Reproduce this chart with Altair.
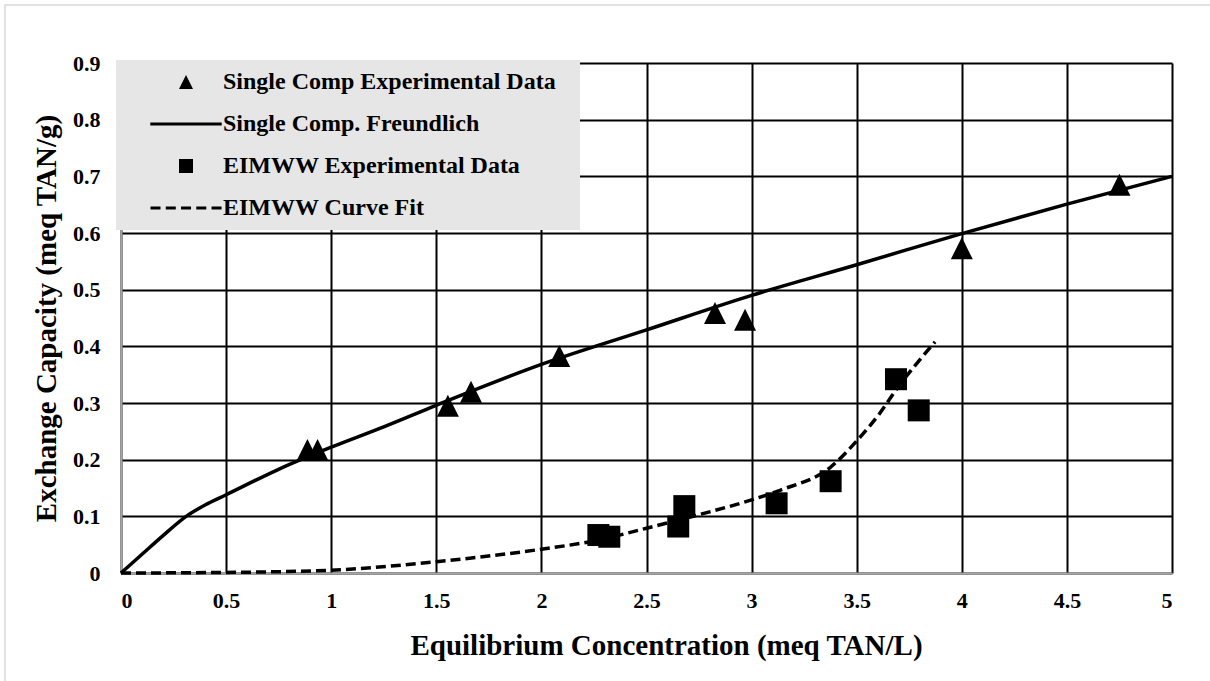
import altair as alt
import pandas as pd

# ---- data ----
single_exp_x = [0.887, 0.935, 1.555, 1.665, 2.085, 2.826, 2.969, 4.0, 4.75]
single_exp_y = [0.217, 0.217, 0.295, 0.320, 0.383, 0.459, 0.447, 0.573, 0.685]

eimww_exp_x = [2.271, 2.323, 2.651, 2.68, 3.119, 3.376, 3.687, 3.795]
eimww_exp_y = [0.067, 0.064, 0.082, 0.118, 0.123, 0.162, 0.342, 0.287]

freund_x = [0, 0.1, 0.2, 0.31, 0.4, 0.5, 0.75, 1, 1.25, 1.5, 2, 2.5, 3, 3.5, 4, 4.5, 5]
freund_y = [0, 0.033, 0.066, 0.100, 0.120, 0.138, 0.183, 0.222, 0.258, 0.296, 0.368,
            0.429, 0.49, 0.544, 0.599, 0.651, 0.70]

fit_x = [0, 0.5, 1, 1.5, 2, 2.27, 2.5, 2.74, 3, 3.135, 3.376, 3.5, 3.61, 3.687, 3.873]
fit_y = [0, 0.001, 0.005, 0.02, 0.042, 0.058, 0.079, 0.102, 0.129, 0.146, 0.187,
         0.233, 0.282, 0.323, 0.408]

series_names = ["Single Comp Experimental Data", "Single Comp. Freundlich",
                "EIMWW Experimental Data", "EIMWW Curve Fit"]

x_ticks = [0, 0.5, 1, 1.5, 2, 2.5, 3, 3.5, 4, 4.5, 5]
y_ticks = [0, 0.1, 0.2, 0.3, 0.4, 0.5, 0.6, 0.7, 0.8, 0.9]

x_title = "Equilibrium Concentration (meq TAN/L)"
y_title = "Exchange Capacity (meq TAN/g)"

# ---- tables ----
pts = pd.DataFrame({
    "x": single_exp_x + eimww_exp_x,
    "y": single_exp_y + eimww_exp_y,
    "series": [series_names[0]] * len(single_exp_x) + [series_names[2]] * len(eimww_exp_x),
})
freund = pd.DataFrame({"x": freund_x, "y": freund_y})
fit = pd.DataFrame({"x": fit_x, "y": fit_y})

FONT = "Liberation Serif"
W, H = 1051, 510

xscale = alt.Scale(domain=[0, 5], nice=False, zero=False)
yscale = alt.Scale(domain=[0, 0.9], nice=False, zero=False)

xaxis = alt.Axis(values=x_ticks, format=".1~f", title=x_title, titleX=545)
yaxis = alt.Axis(values=y_ticks, format=".1~f", title=y_title)

tri_path = "M0,-1L1,1L-1,1Z"
solid_path = "M-5.1,-0.21H5.1V0.21H-5.1Z"
dash_path = ("M-5.07,-0.21H-3.64V0.21H-5.07Z M-2.89,-0.21H-1.46V0.21H-2.89Z "
             "M-0.71,-0.21H0.72V0.21H-0.71Z M1.47,-0.21H2.9V0.21H1.47Z "
             "M3.65,-0.21H5.08V0.21H3.65Z")

border = alt.Chart(pd.DataFrame({"k": [0]})).mark_rect(
    fillOpacity=0, stroke="#d9d9d9", strokeWidth=1.5
).encode(
    x=alt.value(-116), x2=alt.value(1120), y=alt.value(-58), y2=alt.value(640)
)

freund_line = alt.Chart(freund).mark_line(
    color="black", strokeWidth=3.5, interpolate="monotone"
).encode(
    x=alt.X("x:Q", scale=xscale, axis=xaxis),
    y=alt.Y("y:Q", scale=yscale, axis=yaxis),
)

fit_line = alt.Chart(fit).mark_line(
    color="black", strokeWidth=3.5, strokeDash=[10, 5], interpolate="monotone"
).encode(
    x=alt.X("x:Q", scale=xscale, axis=xaxis),
    y=alt.Y("y:Q", scale=yscale, axis=yaxis),
)

points = alt.Chart(pts).mark_point(
    filled=True, color="black", opacity=1, size=484
).encode(
    x=alt.X("x:Q", scale=xscale, axis=xaxis),
    y=alt.Y("y:Q", scale=yscale, axis=yaxis),
    shape=alt.Shape(
        "series:N",
        scale=alt.Scale(domain=series_names,
                        range=[tri_path, solid_path, "square", dash_path]),
        sort=series_names,
        legend=alt.Legend(
            title=" ", titleOrient="right", titlePadding=14, titleFontSize=2,
            orient="none", legendX=-5, legendY=-3,
            fillColor="#e6e6e6", padding=10,
            labelFont=FONT, labelFontSize=24, labelFontWeight="bold",
            labelColor="black", symbolSize=196, symbolStrokeWidth=0,
            symbolFillColor="black", symbolOffset=48, labelOffset=25,
            rowPadding=18, labelLimit=700,
        ),
    ),
)

chart = alt.layer(border, freund_line, fit_line, points).properties(
    width=W, height=H,
    autosize=alt.AutoSizeParams(type="none"),
    padding={"left": 121, "top": 63, "right": 38, "bottom": 108},
    background="white",
).configure_view(
    stroke=None
).configure_axis(
    labelFont=FONT, labelFontSize=22, labelFontWeight="bold", labelColor="black",
    titleFont=FONT, titleFontSize=29, titleFontWeight="bold", titleColor="black",
    gridColor="black", gridWidth=2, gridOpacity=1,
    domainColor="#a6a6a6", domainWidth=2,
    ticks=False, tickSize=0,
).configure_axisX(
    labelPadding=17, titlePadding=20,
).configure_axisY(
    labelPadding=21, titlePadding=11,
)

chart.save("out.html", embed_options={"renderer": "svg", "actions": False})
